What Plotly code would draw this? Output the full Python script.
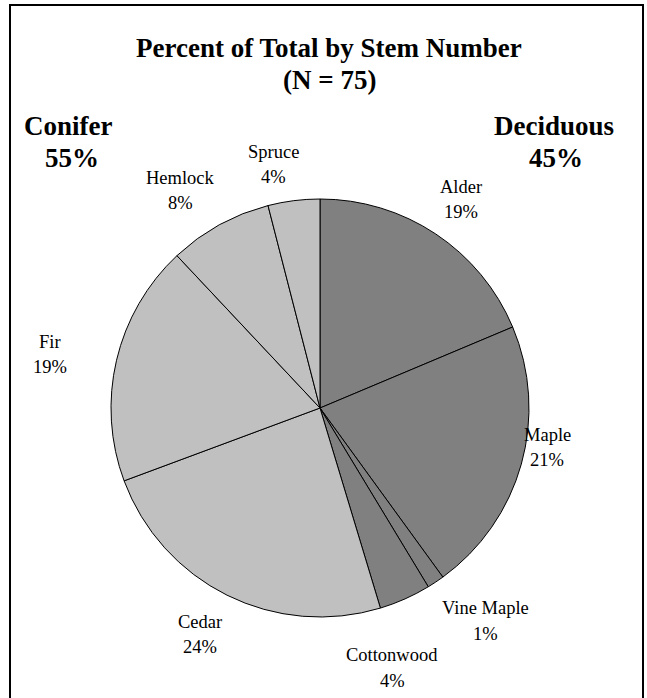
import plotly.graph_objects as go

# Tree stem counts by species (N = 75)
species = ["Alder", "Maple", "Vine Maple", "Cottonwood", "Cedar", "Fir", "Hemlock", "Spruce"]
stems = [14, 16, 1, 3, 18, 14, 6, 3]
group = ["Deciduous", "Deciduous", "Deciduous", "Deciduous", "Conifer", "Conifer", "Conifer", "Conifer"]

group_colors = {"Deciduous": "#808080", "Conifer": "#c0c0c0"}

W, H = 647, 698
total = sum(stems)


def px(x):
    return x / W


def py(y):
    return 1 - y / H


# pie placement (pixels)
cx, cy, r = 320, 408, 209

fig = go.Figure(
    go.Pie(
        labels=species,
        values=stems,
        sort=False,
        direction="clockwise",
        rotation=0,
        textinfo="none",
        hoverinfo="label+percent",
        marker=dict(colors=[group_colors[g] for g in group], line=dict(color="black", width=1)),
        domain=dict(x=[px(cx - r), px(cx + r)], y=[py(cy + r), py(cy - r)]),
        showlegend=False,
    )
)

serif = "Liberation Serif"

annotations = []


def add_text(x, y, text, size, bold=False):
    if bold:
        text = f"<b>{text}</b>"
    annotations.append(dict(
        x=px(x), y=py(y), xref="paper", yref="paper",
        text=text, showarrow=False,
        xanchor="center", yanchor="middle",
        font=dict(family=serif, size=size, color="black"),
    ))


# slice label positions (pixels): x centre, name line y, percent line y
label_pos = {
    "Alder": (461, 187, 212),
    "Maple": (547, 435, 460),
    "Vine Maple": (486, 608, 634),
    "Cottonwood": (392, 655, 681),
    "Cedar": (200, 622, 647),
    "Fir": (50, 342, 367),
    "Hemlock": (180, 178, 203),
    "Spruce": (273, 152, 177),
}

for name, n in zip(species, stems):
    x, y_name, y_pct = label_pos[name]
    pct = round(100 * n / total)
    add_text(x, y_name, name, 18.5)
    add_text(x, y_pct, f"{pct}%", 18.5)

# group totals
group_pos = {"Conifer": (68, 72, 126, 158), "Deciduous": (554, 556, 126, 158)}
for g, (x_name, x_pct, y_name, y_pct) in group_pos.items():
    n = sum(v for v, gg in zip(stems, group) if gg == g)
    pct = round(100 * n / total)
    add_text(x_name, y_name, g, 27, bold=True)
    add_text(x_pct, y_pct, f"{pct}%", 27, bold=True)

# title
add_text(329, 48, "Percent of Total by Stem Number", 27, bold=True)
add_text(329, 80, f"(N = {total})", 27, bold=True)

fig.update_layout(
    width=W, height=H,
    margin=dict(l=0, r=0, t=0, b=0),
    paper_bgcolor="white",
    plot_bgcolor="white",
    annotations=annotations,
    shapes=[dict(
        type="rect", xref="paper", yref="paper",
        x0=px(10), x1=px(643), y0=py(710), y1=py(5),
        line=dict(color="black", width=2), fillcolor="rgba(0,0,0,0)",
    )],
)

fig.write_html("out.html")
